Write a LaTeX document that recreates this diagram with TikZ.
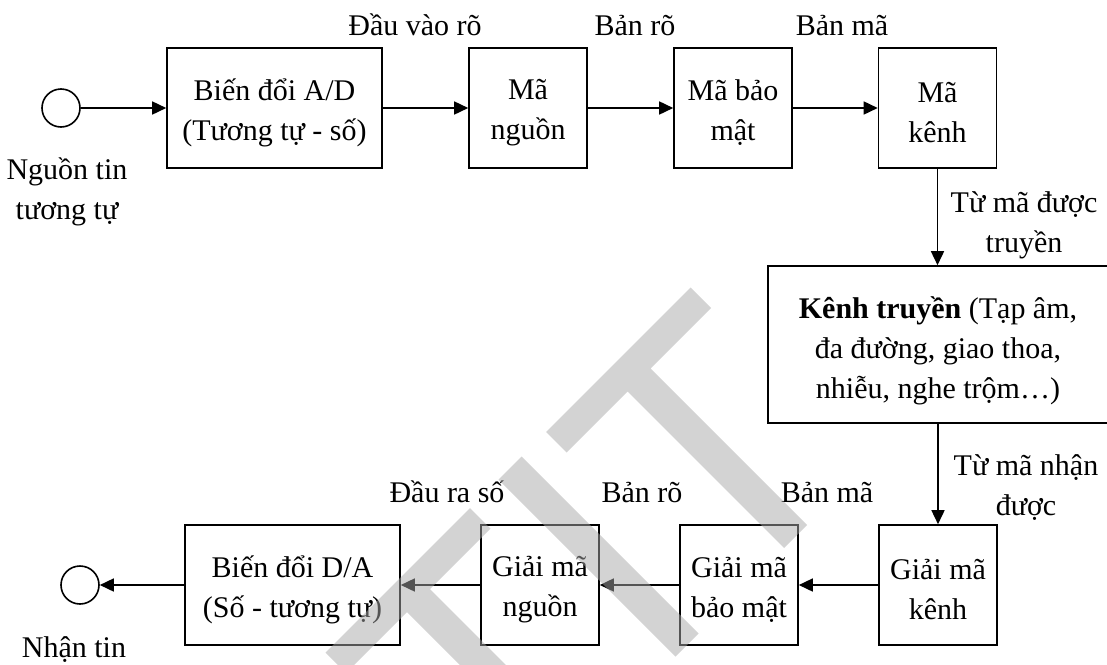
\documentclass[tikz,border=0pt]{standalone}
\usepackage{fontspec}
\setmainfont{Liberation Serif}
\usetikzlibrary{arrows.meta}
\definecolor{wmgray}{RGB}{168,168,168}
\begin{document}
\begin{tikzpicture}[x=1pt,y=-1pt,
  txt/.style={font=\fontsize{30}{40}\selectfont, align=center, inner sep=0pt},
  blk/.style={draw, line width=1.6pt, minimum height=120pt, minimum width=118pt, inner sep=0pt},
  wideblk/.style={blk, minimum width=215pt},
  intext/.style={txt},
  endpt/.style={circle, draw, line width=1.6pt, minimum size=38pt, inner sep=0pt},
  lbl/.style={txt, anchor=base},
  flow/.style={line width=1.6pt, -{Triangle[length=14pt,width=13pt]}},
  wm/.style={fill=wmgray, fill opacity=0.5}
]
\useasboundingbox (0,0) rectangle (1107,664);

% transmitter chain
\node[endpt] (in) at (61,108) {};
\node[wideblk] (ad) at (274.5,108) {};
\node[blk] (src) at (528,108) {};
\node[blk] (sec) at (733,108) {};
\node[blk] (chn) at (937.5,108) {};

% channel
\begin{scope}
  \clip (0,0) rectangle (1107,664);
  \node[blk, minimum width=341pt, minimum height=157pt] (kt) at (938.5,344.5) {};
\end{scope}

% receiver chain
\node[blk] (dchn) at (938,585) {};
\node[blk] (dsec) at (739,585) {};
\node[blk] (dsrc) at (540,585) {};
\node[wideblk] (da) at (292.5,585) {};
\node[endpt] (out) at (80,585) {};

% block captions, set a little below the geometric centre
\node[intext] (adt)   at ([yshift=-5pt]ad.center)   {Biến đổi A/D\\(Tương tự - số)};
\node[intext] (srct)  at ([yshift=-5pt]src.center)  {Mã\\nguồn};
\node[intext] (sect)  at ([yshift=-5pt]sec.center)  {Mã bảo\\mật};
\node[intext] (chnt)  at ([yshift=-5pt]chn.center)  {Mã\\kênh};
\node[intext] (ktt)   at (938,351) {\textbf{Kênh truyền} (Tạp âm,\\đa đường, giao thoa,\\nhiễu, nghe trộm…)};
\node[intext] (dchnt) at ([yshift=-5pt]dchn.center) {Giải mã\\kênh};
\node[intext] (dsect) at ([yshift=-5pt]dsec.center) {Giải mã\\bảo mật};
\node[intext] (dsrct) at ([yshift=-5pt]dsrc.center) {Giải mã\\nguồn};
\node[intext] (dat)   at ([yshift=-5pt]da.center)   {Biến đổi D/A\\(Số - tương tự)};

% labels
\node[txt] (inlbl) at (67,192) {Nguồn tin\\tương tự};
\node[lbl] (l1) at (415,35) {Đầu vào rõ};
\node[lbl] (l2) at (635,35) {Bản rõ};
\node[lbl] (l3) at (842,35) {Bản mã};
\node[txt] (txlbl) at (1024,225) {Từ mã được\\truyền};
\node[txt] (rxlbl) at (1026,488) {Từ mã nhận\\được};
\node[lbl] (l4) at (447,502) {Đầu ra số};
\node[lbl] (l5) at (642,502) {Bản rõ};
\node[lbl] (l6) at (827,502) {Bản mã};
\node[lbl] (l7) at (74,657) {Nhận tin};

% connectors
\draw[flow] (in) -- (ad);
\draw[flow] (ad) -- (src);
\draw[flow] (src) -- (sec);
\draw[flow] (sec) -- (chn);
\draw[flow] (chn.south) -- (chn.south |- kt.north);
\draw[flow] (kt.south -| dchn.north) -- (dchn.north);
\draw[flow] (dchn) -- (dsec);
\draw[flow] (dsec) -- (dsrc);
\draw[flow] (dsrc) -- (da);
\draw[flow] (da) -- (out);

% faint diagonal "TIT" lettering laid over the chart
\begin{scope}
  \clip (0,0) rectangle (1107,664);
  \fill[wm] (325.5,652.5) -- (470,508) -- (490.5,528.5) -- (430,589)
     -- (586.5,745.5) -- (563.5,768.5) -- (407,612) -- (346,673) -- cycle;
  \fill[wm] (498.5,479.5) -- (521.5,456.5) -- (698.5,633.5) -- (675.5,656.5) -- cycle;
  \fill[wm] (546,432) -- (690.5,287.5) -- (711,308) -- (650.5,368.5)
     -- (807,525) -- (784,548) -- (627.5,391.5) -- (566.5,452.5) -- cycle;
\end{scope}
\end{tikzpicture}
\end{document}
